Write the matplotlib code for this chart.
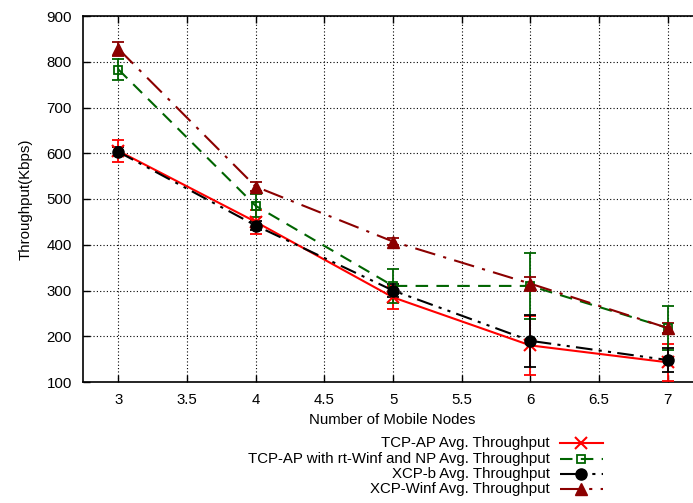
import matplotlib
matplotlib.use("Agg")
import matplotlib.pyplot as plt
from matplotlib.lines import Line2D

plt.rcParams['font.family'] = ['Liberation Sans', 'DejaVu Sans']

nodes = [3, 4, 5, 6, 7]
tcp_ap = [605, 450, 285, 180, 143]
tcp_ap_err = [25, 27, 25, 65, 40]
tcp_ap_np = [783, 485, 310, 310, 218]
tcp_ap_np_err = [22, 25, 37, 72, 48]
xcp_b = [603, 442, 300, 190, 148]
xcp_b_err = [10, 10, 15, 57, 27]
xcp_winf = [828, 527, 407, 315, 218]
xcp_winf_err = [15, 10, 8, 15, 10]

labels = ["TCP-AP Avg. Throughput",
          "TCP-AP with rt-Winf and NP Avg. Throughput",
          "XCP-b Avg. Throughput",
          "XCP-Winf Avg. Throughput"]

FS = 10.8
W, H = 693, 503
fig = plt.figure(figsize=(W / 100, H / 100), dpi=100)
ax = fig.add_axes([83 / W, (H - 382) / H, (702 - 83) / W, (382 - 16) / H])

styles = [
    dict(color='#ff0000', ls='-', marker='x', ms=9, mfc='#ff0000', mew=1.5),
    dict(color='#006400', ls=(0, (6, 4)), marker='s', ms=5.5, mfc='none', mew=1.3),
    dict(color='#000000', ls=(0, (8, 3, 1.5, 3, 1.5, 3)), marker='o', ms=8, mfc='#000000', mew=1),
    dict(color='#8b0000', ls=(0, (10, 4, 1.5, 4)), marker='^', ms=9, mfc='#8b0000', mew=1),
]
series = [(tcp_ap, tcp_ap_err), (tcp_ap_np, tcp_ap_np_err), (xcp_b, xcp_b_err), (xcp_winf, xcp_winf_err)]

for (vals, errs), st in zip(series, styles):
    ax.errorbar(nodes, vals, yerr=errs, color=st['color'], ecolor=st['color'], elinewidth=1.3,
                capsize=4, capthick=1.3, linestyle='none', zorder=3)
    ax.plot(nodes, vals, color=st['color'], linestyle=st['ls'], lw=1.5, marker=st['marker'],
            markersize=st['ms'], markerfacecolor=st['mfc'], markeredgecolor=st['color'],
            markeredgewidth=st['mew'], zorder=4)

ax.set_xlim(2.742, 7.25)
ax.set_ylim(100, 900)
ax.set_xticks([3, 3.5, 4, 4.5, 5, 5.5, 6, 6.5, 7])
ax.set_xticklabels(['3', '3.5', '4', '4.5', '5', '5.5', '6', '6.5', '7'])
ax.set_yticks(range(100, 901, 100))
ax.grid(True, color='black', linestyle=(0, (1, 2)), linewidth=0.8)
ax.tick_params(direction='in', length=5, width=1, top=True, right=True, labelsize=FS, pad=8)
for s in ax.spines.values():
    s.set_linewidth(1.2)
ax.set_xlabel('Number of Mobile Nodes', fontsize=FS, labelpad=4)
ax.set_ylabel('Throughput(Kbps)', fontsize=FS, labelpad=10)

# gnuplot-style legend below the plot
rows = [443, 459, 474, 489]
for lab, st, py in zip(labels, styles, rows):
    yf = (H - py) / H
    fig.text(550 / W, yf, lab, ha='right', va='center', fontsize=FS)
    fig.add_artist(Line2D([560 / W, 603 / W], [yf, yf], transform=fig.transFigure,
                          color=st['color'], linestyle=st['ls'], lw=1.5))
    fig.add_artist(Line2D([581 / W], [yf], transform=fig.transFigure, color=st['color'],
                          marker=st['marker'], markersize=st['ms'], markerfacecolor=st['mfc'],
                          markeredgecolor=st['color'], markeredgewidth=st['mew'], linestyle='none'))

fig.savefig('out.png', dpi=100)
